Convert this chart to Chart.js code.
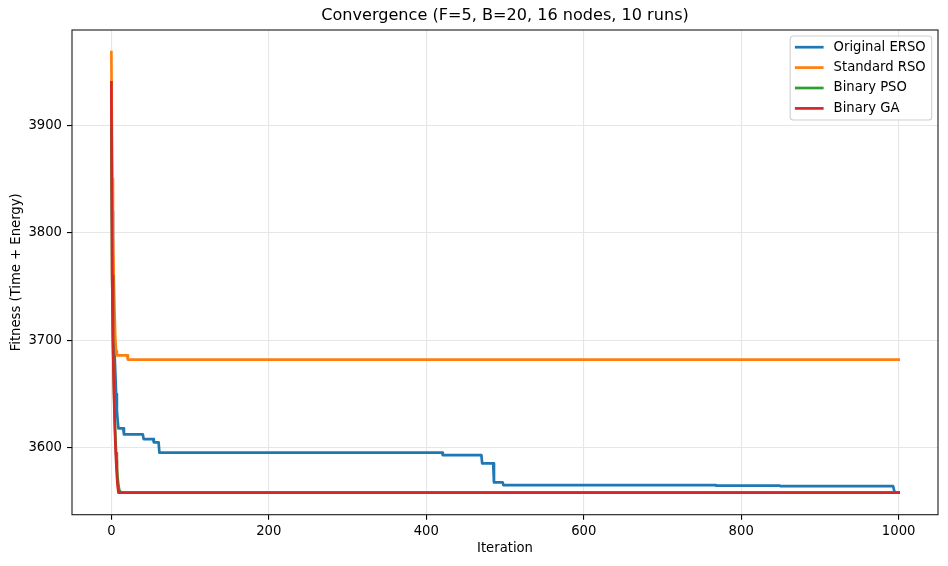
<!DOCTYPE html>
<html><head><meta charset="utf-8">
<script src="https://cdn.jsdelivr.net/npm/chart.js@4.4.0/dist/chart.umd.min.js"></script>
<style>html,body{margin:0;padding:0;background:#fff;overflow:hidden}</style>
</head><body>
<canvas id="c" width="948" height="566" style="width:948px;height:566px;display:block"></canvas>
<script>
// ---- data ----
const seriesNames = ['Original ERSO', 'Standard RSO', 'Binary PSO', 'Binary GA'];
const seriesColors = ['#1f77b4', '#ff7f0e', '#2ca02c', '#d62728'];

const ersoIter = [0,1,2,3,4,5,6,7,8,9,15,16,40,41,53,54,60,61,420,421,470,471,485,486,497,498,767,768,849,850,993,995,1000];
const ersoFit  = [3940,3820,3760,3720,3690,3670,3650,3635,3625,3618,3618,3612.4,3612.4,3608,3608,3605,3605,3595.4,3595.4,3593.2,3593.2,3585.5,3585.5,3567.8,3567.8,3565.2,3565.2,3564.8,3564.8,3564.2,3564.2,3558.3,3558.3];

const rsoIter = [0,1,2,3,4,5,6,7,20,21,1000];
const rsoFit  = [3968,3850,3800,3762,3728,3702,3690,3686,3686,3682,3682];

const psoIter = [0,1,2,3,4,5,6,7,8,9,10,11,12,1000];
const psoFit  = [3900,3760,3700,3665,3635,3612,3595,3582,3572,3565,3561,3559,3558.3,3558.3];

const gaIter = [0,1,2,3,4,5,6,7,8,9,1000];
const gaFit  = [3940,3760,3700,3660,3630,3605,3588,3574,3564,3558.3,3558.3];

const xTicks = [0, 200, 400, 600, 800, 1000];
const yTicks = [3600, 3700, 3800, 3900];

const titleText = 'Convergence (F=5, B=20, 16 nodes, 10 runs)';
const xLabel = 'Iteration';
const yLabel = 'Fitness (Time + Energy)';

// ---- chart ----
const FONT = 'DejaVu Sans';
const toPts = (xs, ys) => xs.map((x, i) => ({x: x, y: ys[i]}));
const allIters = [ersoIter, rsoIter, psoIter, gaIter];
const allFits = [ersoFit, rsoFit, psoFit, gaFit];

const datasets = seriesNames.map((name, i) => ({
  label: name,
  data: toPts(allIters[i], allFits[i]),
  borderColor: seriesColors[i],
  backgroundColor: seriesColors[i],
  borderWidth: 2.7,
  borderJoinStyle: 'round',
  borderCapStyle: 'square',
  pointRadius: 0,
  tension: 0,
  fill: false,
  order: seriesNames.length - i
}));

const framePlugin = {
  id: 'frame',
  afterDatasetsDraw(chart) {
    const ca = chart.chartArea, ctx = chart.ctx;
    ctx.save();
    ctx.strokeStyle = '#1a1a1a';
    ctx.lineWidth = 1.1;
    ctx.strokeRect(ca.left, ca.top, ca.right - ca.left, ca.bottom - ca.top);
    ctx.restore();
  }
};

const titlePlugin = {
  id: 'mplTitle',
  afterDraw(chart) {
    const ca = chart.chartArea, ctx = chart.ctx;
    ctx.save();
    ctx.font = '16.1px "' + FONT + '"';
    ctx.fillStyle = '#000';
    ctx.textAlign = 'center';
    ctx.textBaseline = 'middle';
    ctx.fillText(titleText, (ca.left + ca.right) / 2, 16);
    ctx.restore();
  }
};

const legendPlugin = {
  id: 'mplLegend',
  afterDraw(chart) {
    const ca = chart.chartArea, ctx = chart.ctx;
    ctx.save();
    ctx.font = '13.2px "' + FONT + '"';
    let maxW = 0;
    seriesNames.forEach(n => { maxW = Math.max(maxW, ctx.measureText(n).width); });
    const padL = 4.7, handle = 28.7, gap = 10, padR = 6;
    const w = padL + handle + gap + maxW + padR;
    const h = 84;
    const right = ca.right - 6.3, top = ca.top + 6;
    const left = right - w;
    const r = 3;
    ctx.beginPath();
    ctx.moveTo(left + r, top);
    ctx.lineTo(right - r, top);
    ctx.arcTo(right, top, right, top + r, r);
    ctx.lineTo(right, top + h - r);
    ctx.arcTo(right, top + h, right - r, top + h, r);
    ctx.lineTo(left + r, top + h);
    ctx.arcTo(left, top + h, left, top + h - r, r);
    ctx.lineTo(left, top + r);
    ctx.arcTo(left, top, left + r, top, r);
    ctx.closePath();
    ctx.fillStyle = 'rgba(255,255,255,0.8)';
    ctx.fill();
    ctx.strokeStyle = '#d0d0d0';
    ctx.lineWidth = 1.1;
    ctx.stroke();
    chart.data.datasets.forEach((ds, i) => {
      const cy = top + 11.2 + i * 20.4;
      ctx.strokeStyle = ds.borderColor;
      ctx.lineWidth = 2.7;
      ctx.beginPath();
      ctx.moveTo(left + padL, cy);
      ctx.lineTo(left + padL + handle, cy);
      ctx.stroke();
      ctx.fillStyle = '#000';
      ctx.textBaseline = 'middle';
      ctx.textAlign = 'left';
      ctx.fillText(ds.label, left + padL + handle + gap, cy);
    });
    ctx.restore();
  }
};

new Chart(document.getElementById('c'), {
  type: 'line',
  data: { datasets: datasets },
  plugins: [framePlugin, titlePlugin, legendPlugin],
  options: {
    responsive: false,
    animation: false,
    devicePixelRatio: window.devicePixelRatio || 1,
    layout: { padding: { left: 0, right: 10, top: 30, bottom: 0 } },
    plugins: {
      legend: { display: false },
      tooltip: { enabled: false },
      title: { display: false }
    },
    scales: {
      x: {
        type: 'linear',
        min: -50, max: 1050,
        afterBuildTicks: s => { s.ticks = xTicks.map(v => ({ value: v })); },
        afterFit: s => { s.height = 51.3; },
        ticks: {
          color: '#000', font: { family: FONT, size: 13.2 }, padding: 4,
          maxRotation: 0, autoSkip: false,
          callback: v => String(v)
        },
        grid: { color: '#e6e6e6', lineWidth: 1.1, tickLength: 5, tickColor: '#000', tickWidth: 1.1 },
        border: { display: false },
        title: {
          display: true, text: xLabel, color: '#000',
          font: { family: FONT, size: 13.2 },
          padding: { top: 0, bottom: 10 }
        }
      },
      y: {
        type: 'linear',
        min: 3537.7, max: 3988.6,
        afterBuildTicks: s => { s.ticks = yTicks.map(v => ({ value: v })); },
        afterFit: s => { s.width = 72; },
        ticks: {
          color: '#000', font: { family: FONT, size: 13.2 }, padding: 5,
          callback: v => String(v)
        },
        grid: { color: '#e6e6e6', lineWidth: 1.1, tickLength: 5, tickColor: '#000', tickWidth: 1.1 },
        border: { display: false },
        title: {
          display: true, text: yLabel, color: '#000',
          font: { family: FONT, size: 13.2 },
          padding: { top: 9, bottom: 0 }
        }
      }
    }
  }
});
</script>
</body></html>
